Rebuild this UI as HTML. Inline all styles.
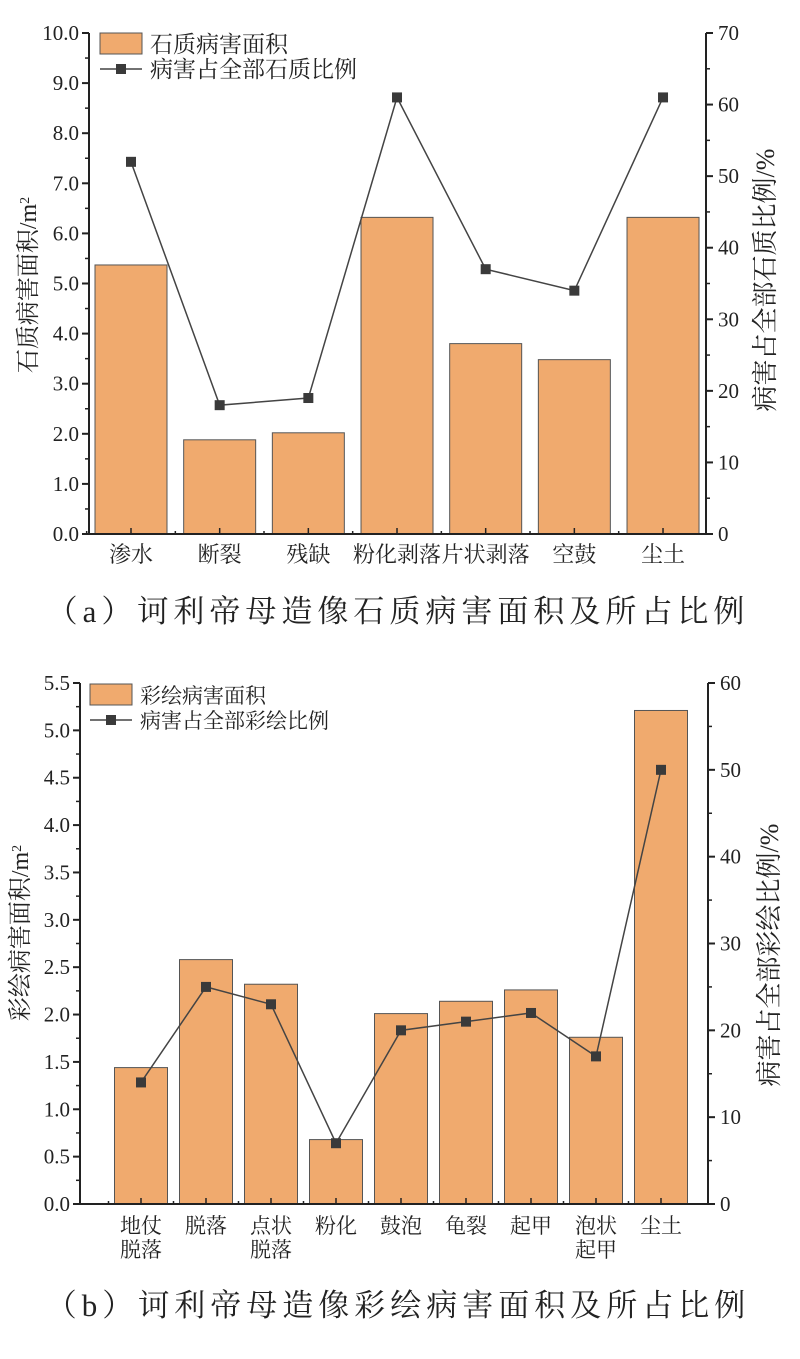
<!DOCTYPE html>
<html><head><meta charset="utf-8">
<style>
body{margin:0;background:#fff;}
svg{display:block;}
text{font-family:"Liberation Serif","Noto Serif CJK SC",serif;fill:#222;}
.cj{font-family:"Liberation Serif","Noto Serif CJK SC",serif;}
</style></head>
<body>
<svg id="svg" width="800" height="1359" viewBox="0 0 800 1359" xmlns="http://www.w3.org/2000/svg">
<text x="398" y="622" text-anchor="middle" font-size="31" letter-spacing="5" class="cj">（a）诃利帝母造像石质病害面积及所占比例</text>
<text x="398" y="1316" text-anchor="middle" font-size="31" letter-spacing="5" class="cj">（b）诃利帝母造像彩绘病害面积及所占比例</text>
</svg>
<script>
// Chart A data
const catsA = ["渗水","断裂","残缺","粉化剥落","片状剥落","空鼓","尘土"];
const areaA = [5.37,1.88,2.02,6.32,3.8,3.48,6.32];
const pctA = [52,18,19,61,37,34,61];
const leftTicksA = ["0.0","1.0","2.0","3.0","4.0","5.0","6.0","7.0","8.0","9.0","10.0"];
const rightTicksA = ["0","10","20","30","40","50","60","70"];
// Chart B data
const catsB = [["地仗","脱落"],["脱落"],["点状","脱落"],["粉化"],["鼓泡"],["龟裂"],["起甲"],["泡状","起甲"],["尘土"]];
const areaB = [1.44,2.58,2.32,0.68,2.01,2.14,2.26,1.76,5.21];
const pctB = [14,25,23,7,20,21,22,17,50];
const leftTicksB = ["0.0","0.5","1.0","1.5","2.0","2.5","3.0","3.5","4.0","4.5","5.0","5.5"];
const rightTicksB = ["0","10","20","30","40","50","60"];

const svg=document.getElementById('svg');
const NS="http://www.w3.org/2000/svg";
function mk(tag,attrs,parent){const e=document.createElementNS(NS,tag);for(const k in attrs)e.setAttribute(k,attrs[k]);(parent||svg).appendChild(e);return e;}

function chart(cfg){
  const g=mk('g',{});
  
  
  const {x0,x1,y0,y1,lmax,rmax,c0,step,bw}=cfg;
  const yL=v=>y0-(v/lmax)*(y0-y1);
  const yR=v=>y0-(v/rmax)*(y0-y1);
  const xC=i=>c0+step*i;
  cfg.area.forEach((v,i)=>{
    const r=mk('rect',{x:xC(i)-bw/2,y:yL(v),width:bw,height:y0-yL(v),fill:'#F0AA6E',stroke:'#555','stroke-width':1},g);
    
    
  });
  const ax=mk('path',{d:`M${x0} ${y1}V${y0}H${x1}V${y1}`,fill:'none',stroke:'#222','stroke-width':2},g);
  
  
  const nL=cfg.lt.length;
  cfg.lt.forEach((t,i)=>{
    const v=parseFloat(t);const y=yL(v);
    mk('line',{x1:x0-7,x2:x0,y1:y,y2:y,stroke:'#222','stroke-width':2},g);
    if(i<nL-1){const ym=yL(v+(lmax/(nL-1))/2);mk('line',{x1:x0-4,x2:x0,y1:ym,y2:ym,stroke:'#222','stroke-width':1.5},g);}
    const tx=mk('text',{x:x0-10,y:y+7,'text-anchor':'end','font-size':21},g);tx.textContent=t;
    
    
  });
  const nR=cfg.rt.length;
  cfg.rt.forEach((t,i)=>{
    const v=parseFloat(t);const y=yR(v);
    mk('line',{x1:x1,x2:x1+7,y1:y,y2:y,stroke:'#222','stroke-width':2},g);
    if(i<nR-1){const ym=yR(v+rmax/(nR-1)/2);mk('line',{x1:x1,x2:x1+4,y1:ym,y2:ym,stroke:'#222','stroke-width':1.5},g);}
    const tx=mk('text',{x:x1+12,y:y+7,'font-size':21},g);tx.textContent=t;
    
    
  });
  cfg.cats.forEach((c,i)=>{
    const x=xC(i);
    mk('line',{x1:x,x2:x,y1:y0-6,y2:y0,stroke:'#222','stroke-width':1.5},g);
    mk('line',{x1:x-step/2,x2:x-step/2,y1:y0-3,y2:y0,stroke:'#222','stroke-width':1.5},g);
    const lines=Array.isArray(c)?c:[c];
    lines.forEach((s,k)=>{
      const tx=mk('text',{x:x,y:y0+cfg.lab0+k*cfg.labH,'text-anchor':'middle','font-size':cfg.fs},g);tx.textContent=s;
      
      
    });
  });
  const pts=cfg.pct.map((v,i)=>xC(i)+','+yR(v)).join(' ');
  const pl=mk('polyline',{points:pts,fill:'none',stroke:'#444','stroke-width':1.5},g);
  
  
  cfg.pct.forEach((v,i)=>{
    const p=mk('rect',{x:xC(i)-5,y:yR(v)-5,width:10,height:10,fill:'#3a3a3a'},g);
    
    
  });
  const lt=mk('text',{x:cfg.ltx,y:cfg.lcy,'text-anchor':'middle','font-size':24,transform:`rotate(-90 ${cfg.ltx} ${cfg.lcy})`},g);
  lt.innerHTML=cfg.ltitle+'/m<tspan baseline-shift="super" font-size="14">2</tspan>';
  
  
  const rt=mk('text',{x:cfg.rtx,y:cfg.rcy,'text-anchor':'middle','font-size':26,transform:`rotate(-90 ${cfg.rtx} ${cfg.rcy})`},g);
  rt.textContent=cfg.rtitle;
  
  
  const L=cfg.leg;
  const lg=mk('g',{},g);
  
  
  mk('rect',{x:L.x,y:L.y,width:42,height:21,fill:'#F0AA6E',stroke:'#555','stroke-width':1},lg);
  const t1=mk('text',{x:L.x+50,y:L.y+19,'font-size':L.fs},lg);t1.textContent=cfg.leg1;
  
  
  mk('line',{x1:L.x,x2:L.x+42,y1:L.y+36,y2:L.y+36,stroke:'#444','stroke-width':1.5},lg);
  mk('rect',{x:L.x+16,y:L.y+31,width:10,height:10,fill:'#3a3a3a'},lg);
  const t2=mk('text',{x:L.x+50,y:L.y+44,'font-size':L.fs},lg);t2.textContent=cfg.leg2;
  
  
}

chart({name:'chart-a',x0:89,x1:706,y0:534,y1:33,lmax:10,rmax:70,c0:131,step:88.67,bw:72,
  area:areaA,pct:pctA,cats:catsA,lt:leftTicksA,rt:rightTicksA,lab0:28,labH:24,fs:22,
  ltx:36,rtx:774,lcy:285,rcy:280,ltitle:'石质病害面积',rtitle:'病害占全部石质比例/%',
  leg:{x:100,y:33,fs:23},leg1:'石质病害面积',leg2:'病害占全部石质比例'});
chart({name:'chart-b',x0:80,x1:708,y0:1204,y1:683,lmax:5.5,rmax:60,c0:141,step:65,bw:53,
  area:areaB,pct:pctB,cats:catsB,lt:leftTicksB,rt:rightTicksB,lab0:29,labH:24,fs:21,
  ltx:28,rtx:778,lcy:933,rcy:955,ltitle:'彩绘病害面积',rtitle:'病害占全部彩绘比例/%',
  leg:{x:90,y:684,fs:21},leg1:'彩绘病害面积',leg2:'病害占全部彩绘比例'});
</script>
</body></html>
